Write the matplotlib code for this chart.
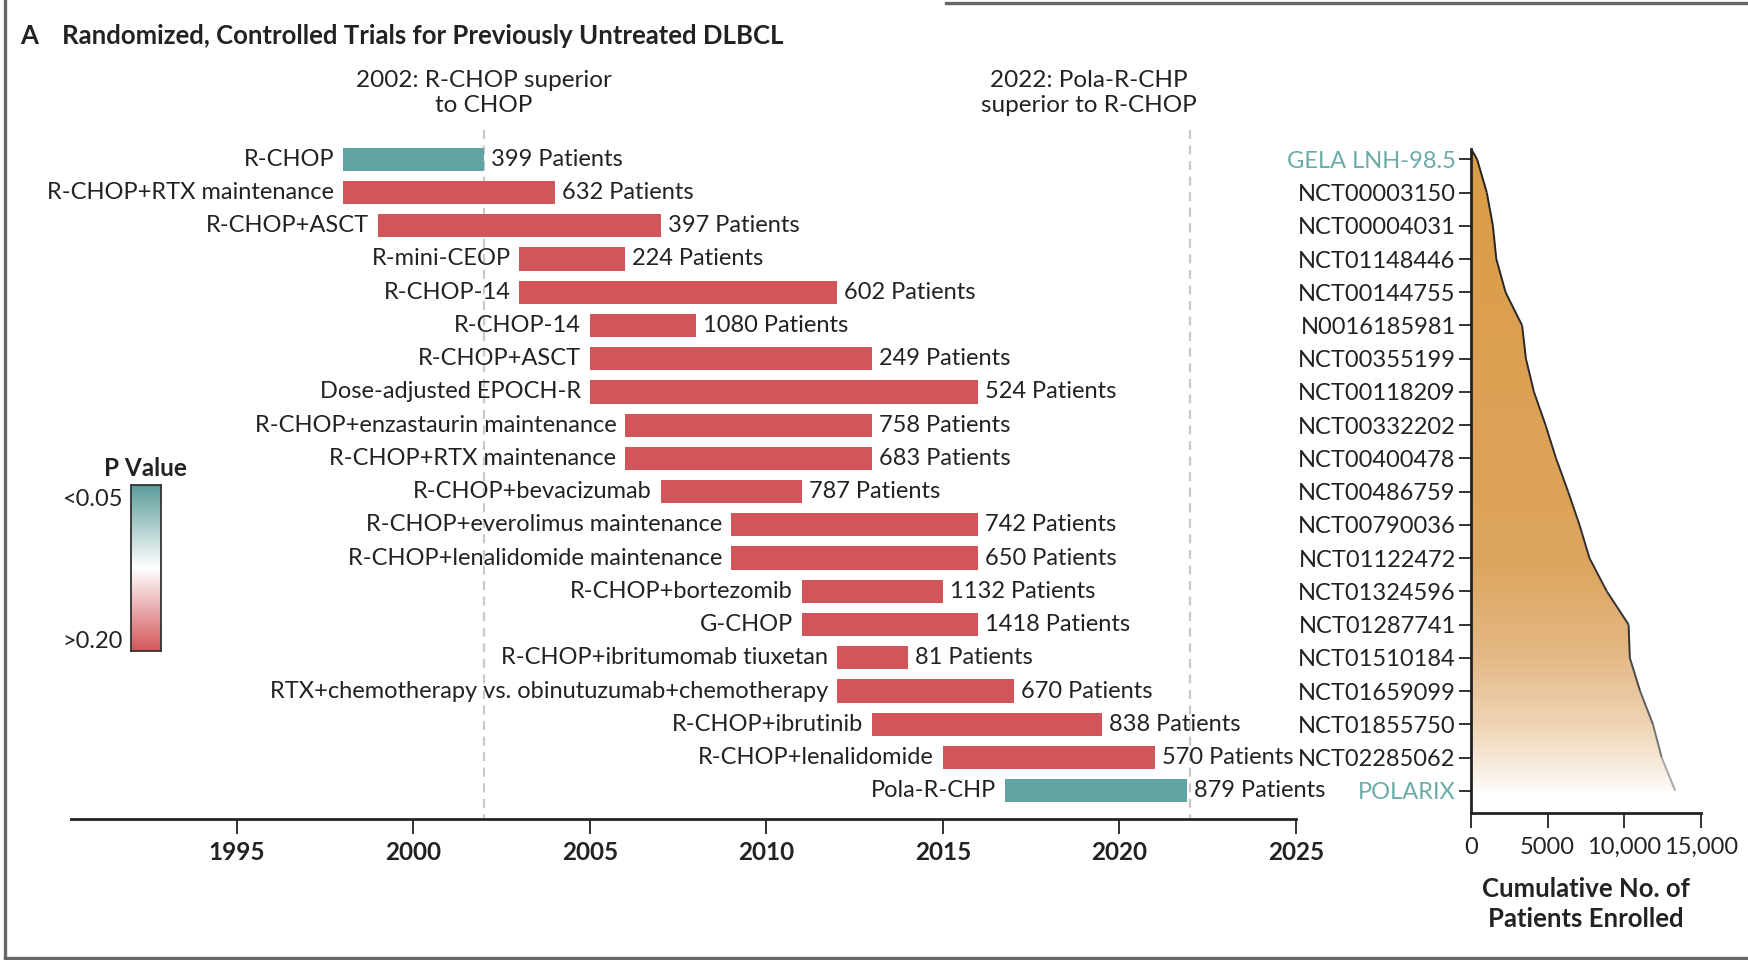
import numpy as np
import matplotlib
matplotlib.use("Agg")
import matplotlib.pyplot as plt
from matplotlib.collections import LineCollection
from matplotlib.colors import LinearSegmentedColormap
from matplotlib.lines import Line2D
from matplotlib.patches import Polygon

plt.rcParams['font.family'] = ['Lato', 'DejaVu Sans']

# data
regimens = ['R-CHOP', 'R-CHOP+RTX maintenance', 'R-CHOP+ASCT', 'R-mini-CEOP', 'R-CHOP-14',
            'R-CHOP-14', 'R-CHOP+ASCT', 'Dose-adjusted EPOCH-R', 'R-CHOP+enzastaurin maintenance',
            'R-CHOP+RTX maintenance', 'R-CHOP+bevacizumab', 'R-CHOP+everolimus maintenance',
            'R-CHOP+lenalidomide maintenance', 'R-CHOP+bortezomib', 'G-CHOP',
            'R-CHOP+ibritumomab tiuxetan', 'RTX+chemotherapy vs. obinutuzumab+chemotherapy',
            'R-CHOP+ibrutinib', 'R-CHOP+lenalidomide', 'Pola-R-CHP']
start_year = [1998, 1998, 1999, 2003, 2003, 2005, 2005, 2005, 2006, 2006,
              2007, 2009, 2009, 2011, 2011, 2012, 2012, 2013, 2015, 2016.75]
end_year = [2002, 2004, 2007, 2006, 2012, 2008, 2013, 2016, 2013, 2013,
            2011, 2016, 2016, 2015, 2016, 2014, 2017, 2019.5, 2021, 2021.9]
patients = [399, 632, 397, 224, 602, 1080, 249, 524, 758, 683,
            787, 742, 650, 1132, 1418, 81, 670, 838, 570, 879]
significant = [True] + [False] * 18 + [True]
trial_ids = ['GELA LNH-98.5', 'NCT00003150', 'NCT00004031', 'NCT01148446', 'NCT00144755',
             'N0016185981', 'NCT00355199', 'NCT00118209', 'NCT00332202', 'NCT00400478',
             'NCT00486759', 'NCT00790036', 'NCT01122472', 'NCT01324596', 'NCT01287741',
             'NCT01510184', 'NCT01659099', 'NCT01855750', 'NCT02285062', 'POLARIX']
year_ticks = [1995, 2000, 2005, 2010, 2015, 2020, 2025]
count_ticks = [0, 5000, 10000, 15000]
count_labels = ['0', '5000', '10,000', '15,000']

TEAL = '#62a4a1'
RED = '#d2555a'
TEXT = '#222222'
W, H = 1749, 960
FS = 17

fig = plt.figure(figsize=(W / 100, H / 100), dpi=100)

def px_axes(x0, y_top, x1, y_bot):
    return fig.add_axes([x0 / W, 1 - y_bot / H, (x1 - x0) / W, (y_bot - y_top) / H])

rows = np.arange(len(regimens))

# ---- left panel: timeline of trials
ax = px_axes(71, 126, 1296, 819)
ax.set_xlim(1990.3, 2025)
ax.set_ylim(19.85, -1.0)
colors = [TEAL if s else RED for s in significant]
ax.barh(rows, np.array(end_year) - np.array(start_year), left=start_year,
        height=0.7, color=colors, zorder=3)
for i in rows:
    ax.text(start_year[i] - 0.25, i, regimens[i], ha='right', va='center',
            fontsize=FS, color=TEXT)
    ax.text(end_year[i] + 0.2, i, f'{patients[i]} Patients', ha='left', va='center',
            fontsize=FS, color=TEXT)
ax.vlines([2002, 2022], -0.88, 19.85, colors='#c9c9c9', linestyles=(0, (4, 3)), lw=1.6, zorder=1)
ax.text(2002, -2.0, '2002: R-CHOP superior\nto CHOP', ha='center', va='center',
        fontsize=17.5, color=TEXT, linespacing=1.25)
ax.text(2022.2, -2.0, '2022: Pola-R-CHP\nsuperior to R-CHOP', ha='right', va='center',
        fontsize=17.5, color=TEXT, linespacing=1.25, multialignment='center')
for s in ['top', 'right', 'left']:
    ax.spines[s].set_visible(False)
ax.spines['bottom'].set_linewidth(2)
ax.spines['bottom'].set_color(TEXT)
ax.set_yticks([])
ax.set_xticks(year_ticks)
ax.tick_params(axis='x', length=11, width=1.3, color=TEXT, pad=5, labelsize=17.5)
for lab in ax.get_xticklabels():
    lab.set_fontweight('bold')
    lab.set_color(TEXT)

# ---- right panel: cumulative enrolment
ax2 = px_axes(1471, 148.7, 1701, 813)
y_top = -0.32
ax2.set_xlim(0, 15000)
ax2.set_ylim(19.67, y_top)
cum = np.cumsum(patients)
xs = np.concatenate([[0], cum])
ys = np.concatenate([[y_top], rows])

# gradient fill clipped to the area under the curve
gy = np.linspace(y_top, 19.67, 400)
stops_y = [y_top, 12, 15, 17, 18.3, 19.2]
stops_r = [218, 221, 228, 238, 248, 255]
stops_g = [156, 164, 185, 212, 236, 255]
stops_b = [70, 92, 134, 180, 222, 255]
grad = np.stack([np.interp(gy, stops_y, stops_r), np.interp(gy, stops_y, stops_g),
                 np.interp(gy, stops_y, stops_b)], axis=1) / 255
img = ax2.imshow(grad[:, None, :], aspect='auto', extent=[0, 15000, 19.67, y_top],
                 origin='upper', zorder=1, interpolation='bilinear')
poly = Polygon(np.column_stack([np.concatenate([xs, [0]]), np.concatenate([ys, [ys[-1]]])]),
               closed=True, facecolor='none', edgecolor='none', transform=ax2.transData)
ax2.add_patch(poly)
img.set_clip_path(poly)
ax2.set_xlim(0, 15000)
ax2.set_ylim(19.67, y_top)

segs = [[(xs[k], ys[k]), (xs[k + 1], ys[k + 1])] for k in range(len(xs) - 1)]
seg_y = (ys[:-1] + ys[1:]) / 2
seg_grey = np.interp(seg_y, [y_top, 14.5, 17.5, 19], [0.13, 0.2, 0.45, 0.75])
lc = LineCollection(segs, colors=[(g, g, g) for g in seg_grey], linewidths=1.4, zorder=3)
ax2.add_collection(lc)

for s in ['top', 'right']:
    ax2.spines[s].set_visible(False)
for s in ['left', 'bottom']:
    ax2.spines[s].set_linewidth(2)
    ax2.spines[s].set_color(TEXT)
ax2.set_yticks(rows)
ax2.set_yticklabels(trial_ids)
ax2.set_xticks(count_ticks)
ax2.set_xticklabels(count_labels)
ax2.tick_params(axis='y', length=9, width=1.3, color=TEXT, pad=2, labelsize=FS)
ax2.tick_params(axis='x', length=11, width=1.3, color=TEXT, pad=6, labelsize=FS)
for lab, s in zip(ax2.get_yticklabels(), significant):
    lab.set_color('#6aaba8' if s else TEXT)
for lab in ax2.get_xticklabels():
    lab.set_color(TEXT)
ax2.set_xlabel('Cumulative No. of\nPatients Enrolled', fontsize=18.5, fontweight='bold',
               color=TEXT, labelpad=14, linespacing=1.3)

# ---- P value colour key
cax = px_axes(131, 485, 161, 651)
pcmap = LinearSegmentedColormap.from_list('p', [(0, '#5c9e9b'), (0.5, '#ffffff'), (1, '#d4575b')])
cax.imshow(np.linspace(0, 1, 200)[:, None], cmap=pcmap, aspect='auto')
cax.set_xticks([])
cax.set_yticks([])
for s in cax.spines.values():
    s.set_linewidth(1.3)
    s.set_color('#333333')
fig.text(145 / W, 1 - 468 / H, 'P Value', ha='center', va='center', fontsize=17.5,
         fontweight='bold', color=TEXT)
fig.text(123 / W, 1 - 499 / H, '<0.05', ha='right', va='center', fontsize=FS, color=TEXT)
fig.text(123 / W, 1 - 642 / H, '>0.20', ha='right', va='center', fontsize=FS, color=TEXT)

# ---- title and frame
fig.text(20 / W, 1 - 36 / H, 'A', ha='left', va='center', fontsize=18.5, fontweight='bold', color=TEXT)
fig.text(62 / W, 1 - 36 / H, 'Randomized, Controlled Trials for Previously Untreated DLBCL',
         ha='left', va='center', fontsize=18.5, fontweight='bold', color=TEXT)
frame = dict(transform=fig.transFigure, color='#666666', lw=2.4)
fig.add_artist(Line2D([5 / W, 5 / W], [2 / H, 1], **frame))
fig.add_artist(Line2D([5 / W, 1], [2 / H, 2 / H], **frame))
fig.add_artist(Line2D([946 / W, 1], [1 - 3 / H, 1 - 3 / H], **frame))

fig.savefig('out.png', dpi=100)
